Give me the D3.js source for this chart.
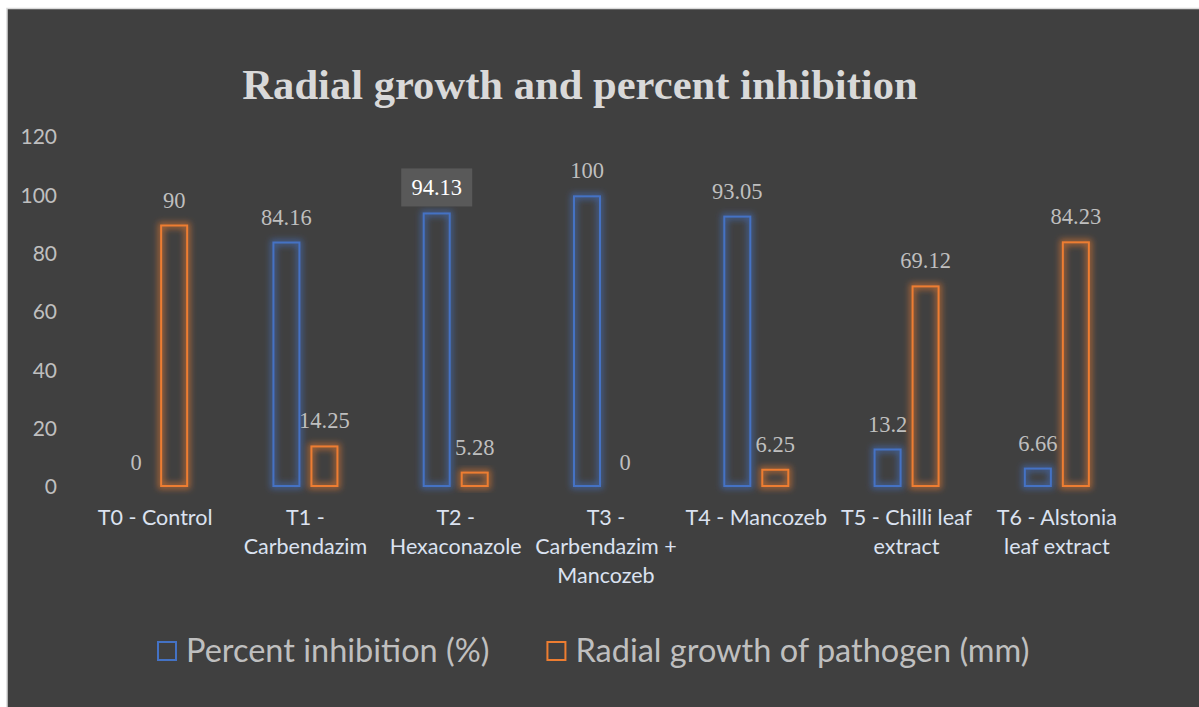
<!DOCTYPE html>
<html>
<head>
<meta charset="utf-8">
<script src="https://cdn.jsdelivr.net/npm/d3@7"></script>
<style>
  body { margin: 0; background: #ffffff; }
  svg { display: block; }
</style>
</head>
<body>
<div id="chart"></div>
<script>
const categories = [
  "T0 - Control",
  "T1 - Carbendazim",
  "T2 - Hexaconazole",
  "T3 - Carbendazim + Mancozeb",
  "T4 - Mancozeb",
  "T5 - Chilli leaf extract",
  "T6 - Alstonia leaf extract"
];
const percentInhibition = [0, 84.16, 94.13, 100, 93.05, 13.2, 6.66];
const radialGrowth = [90, 14.25, 5.28, 0, 6.25, 69.12, 84.23];
const seriesNames = ["Percent inhibition (%)", "Radial growth of pathogen (mm)"];
const yTicks = [0, 20, 40, 60, 80, 100, 120];

const W = 1199, H = 707;
const margin = { left: 80, right: 67, top: 137, bottom: 220 };
const width = W - margin.left - margin.right;
const height = H - margin.top - margin.bottom;
const colors = ["#4472c4", "#ed7d31"];

const svg = d3.select("#chart").append("svg")
  .attr("width", W).attr("height", H);

// glow filters
const defs = svg.append("defs");
colors.forEach((c, i) => {
  const f = defs.append("filter").attr("id", "glow" + i)
    .attr("x", "-50%").attr("y", "-50%").attr("width", "200%").attr("height", "200%");
  f.append("feMorphology").attr("in", "SourceGraphic").attr("operator", "dilate").attr("radius", 2).attr("result", "fat");
  f.append("feGaussianBlur").attr("in", "fat").attr("stdDeviation", 3).attr("result", "blur");
  f.append("feComponentTransfer").attr("in", "blur").attr("result", "soft")
    .append("feFuncA").attr("type", "linear").attr("slope", 0.6);
  const m = f.append("feMerge");
  m.append("feMergeNode").attr("in", "soft");
  m.append("feMergeNode").attr("in", "SourceGraphic");
});

// chart background
svg.append("rect")
  .attr("x", 7).attr("y", 8.5).attr("width", W).attr("height", H)
  .attr("fill", "#404040").attr("stroke", "#d9d9d9").attr("stroke-width", 1.5);

// title
svg.append("text")
  .attr("x", 580).attr("y", 99)
  .attr("text-anchor", "middle")
  .attr("font-family", "'Liberation Serif', 'Times New Roman', serif")
  .attr("font-weight", "bold")
  .attr("font-size", 42.6)
  .attr("fill", "#d9d9d9")
  .text("Radial growth and percent inhibition");

const g = svg.append("g").attr("transform", `translate(${margin.left},${margin.top})`);

const x = d3.scaleBand().domain(categories).range([0, width]);
const y = d3.scaleLinear().domain([0, 120]).range([height, 0]);

// y axis
const yAxis = g.append("g")
  .call(d3.axisLeft(y).tickValues(yTicks).tickSize(0).tickPadding(23));
yAxis.select(".domain").remove();
yAxis.selectAll("text")
  .attr("font-family", "Lato, 'Open Sans', sans-serif")
  .attr("font-size", 21)
  .attr("fill", "#bfbfbf");

// bars
const barW = 28, gap = 10;
const series = [percentInhibition, radialGrowth];
series.forEach((vals, si) => {
  const off = si === 0 ? -gap / 2 - barW : gap / 2;
  const data = categories.map((c, i) => ({ c, v: vals[i] }));

  g.append("g").selectAll("rect")
    .data(data.filter(d => d.v > 0))
    .join("rect")
    .attr("x", d => x(d.c) + x.bandwidth() / 2 + off + 1)
    .attr("y", d => y(d.v) + 1)
    .attr("width", barW - 2)
    .attr("height", d => Math.max(0, height - y(d.v) - 2))
    .attr("fill", "none")
    .attr("stroke", colors[si])
    .attr("stroke-width", 2)
    .attr("filter", `url(#glow${si})`);

  const labels = g.append("g").selectAll("g")
    .data(data)
    .join("g")
    .attr("transform", d => `translate(${x(d.c) + x.bandwidth() / 2 + off + barW / 2},${y(d.v) - 17})`);

  // highlighted label (selected in the original) gets a box
  labels.filter(d => si === 0 && d.c === categories[2])
    .append("rect")
    .attr("x", -35.5).attr("y", -27).attr("width", 71).attr("height", 38)
    .attr("fill", "#595959");

  labels.append("text")
    .attr("text-anchor", "middle")
    .attr("font-family", "'Liberation Serif', 'Times New Roman', serif")
    .attr("font-size", 22.5)
    .attr("fill", d => (si === 0 && d.c === categories[2]) ? "#ffffff" : "#bfbfbf")
    .text(d => d.v);
});

// x labels with wrapping
const xl = g.append("g").attr("transform", `translate(0,${height})`);
categories.forEach(c => {
  const t = xl.append("text")
    .attr("x", x(c) + x.bandwidth() / 2)
    .attr("y", 38)
    .attr("text-anchor", "middle")
    .attr("font-family", "Lato, 'Open Sans', sans-serif")
    .attr("font-size", 21.5)
    .attr("fill", "#dbe2f0");
  const words = c.split(" ");
  let lines = [], line = [];
  const probe = t.append("tspan");
  words.forEach(w => {
    const tryLine = line.concat(w).join(" ");
    probe.text(tryLine);
    if (probe.node().getComputedTextLength() > 150 && line.length) {
      lines.push(line.join(" "));
      line = [w];
    } else line.push(w);
  });
  lines.push(line.join(" "));
  probe.remove();
  lines.forEach((l, i) => {
    t.append("tspan")
      .attr("x", x(c) + x.bandwidth() / 2)
      .attr("dy", i === 0 ? 0 : 29)
      .text(l);
  });
});

// legend
const legend = svg.append("g").attr("transform", "translate(0,662)");
let lx = 157;
seriesNames.forEach((n, i) => {
  const item = legend.append("g").attr("transform", `translate(${lx},0)`);
  item.append("rect")
    .attr("x", 1).attr("y", -20).attr("width", 18).attr("height", 18)
    .attr("fill", "none").attr("stroke", colors[i]).attr("stroke-width", 2);
  const t = item.append("text")
    .attr("x", 29).attr("y", 0)
    .attr("font-family", "Lato, 'Open Sans', sans-serif")
    .attr("font-size", 32.5)
    .attr("fill", "#bfbfbf")
    .text(n);
  lx += 29 + t.node().getComputedTextLength() + 57;
});
</script>
</body>
</html>
